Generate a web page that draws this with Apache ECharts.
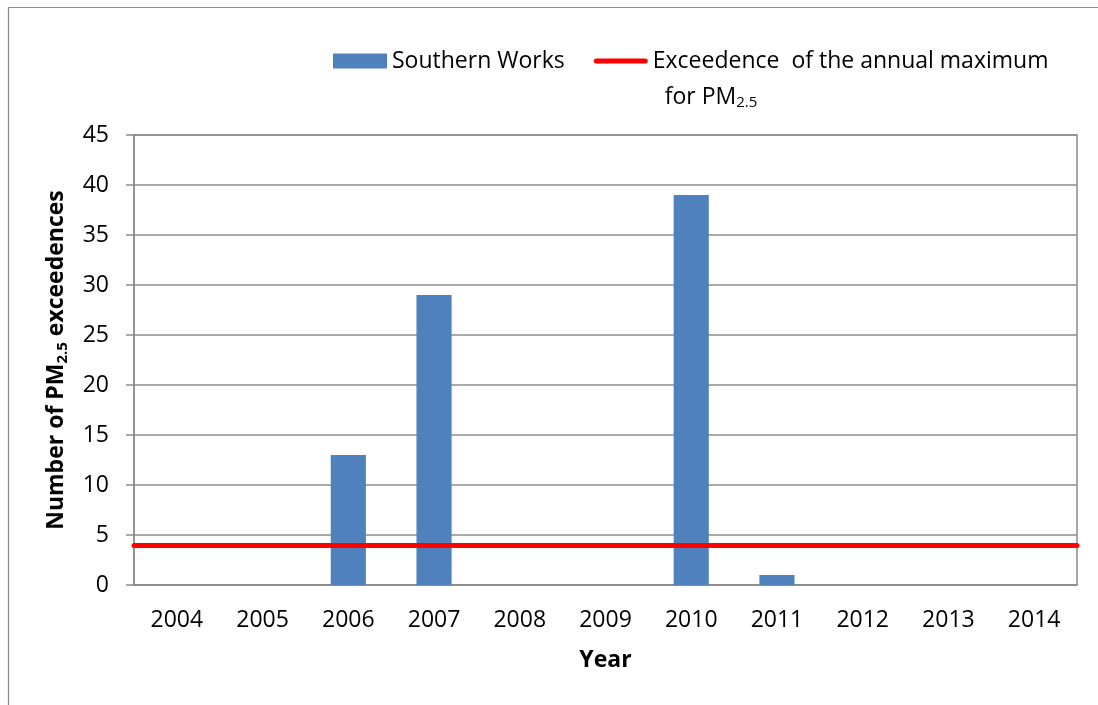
<!DOCTYPE html>
<html>
<head>
<meta charset="utf-8">
<script src="https://cdn.jsdelivr.net/npm/echarts@6/dist/echarts.min.js"></script>
<style>
  html, body { margin: 0; padding: 0; background: #ffffff; }
  #chart { width: 1098px; height: 705px; }
</style>
</head>
<body>
<div id="chart"></div>
<script>
// Annual PM2.5 exceedence counts at the Southern Works site
const years = ['2004', '2005', '2006', '2007', '2008', '2009', '2010', '2011', '2012', '2013', '2014'];
const southernWorks = [0, 0, 13, 29, 0, 0, 39, 1, 0, 0, 0];
// Allowed number of exceedences per year (horizontal reference line)
const annualMaximum = 4;
const yTicks = { min: 0, max: 45, interval: 5 };

const barName = 'Southern Works';
const lineName = 'Exceedence  of the annual maximum';

const FONT = '"Open Sans", "Liberation Sans", sans-serif';
const FONT_SIZE = 23;
const GRID_GREY = '#8c8c8c';

// thick red bar with rounded ends, used as the legend swatch of the reference line
const LINE_ICON = 'path://M2.5,0 L51.5,0 A2.5,2.5 0 0 1 51.5,5 L2.5,5 A2.5,2.5 0 0 1 2.5,0 Z';

const chart = echarts.init(document.getElementById('chart'), null, { renderer: 'canvas' });

chart.setOption({
  animation: false,
  backgroundColor: '#ffffff',
  textStyle: { fontFamily: FONT, color: '#000000' },
  graphic: [{
    type: 'rect',
    shape: { x: 8.5, y: 7.5, width: 1200, height: 800 },
    style: { fill: 'none', stroke: '#8a8a8a', lineWidth: 1.2 },
    silent: true,
    z: -10
  }],
  legend: {
    left: 333,
    top: 7,
    padding: 0,
    itemWidth: 54,
    itemHeight: 15,
    itemGap: 29,
    selectedMode: false,
    symbolKeepAspect: true,
    textStyle: {
      fontFamily: FONT,
      fontSize: FONT_SIZE,
      color: '#000000',
      lineHeight: 36,
      rich: {
        blank: { fontSize: FONT_SIZE, lineHeight: 36 },
        sub: { fontSize: 15, lineHeight: 36, padding: [12, 0, 0, 0] }
      }
    },
    formatter: function (name) {
      if (name === lineName) {
        // blank first line keeps the icon level with the first visible line
        return '{blank| }\n' + name + '\n  for PM{sub|2.5}';
      }
      return name;
    },
    data: [
      { name: barName, icon: 'rect' },
      { name: lineName, icon: LINE_ICON, itemStyle: { color: '#ff0000' } }
    ]
  },
  grid: {
    left: 134,
    right: 21,
    top: 135,
    bottom: 120,
    show: true,
    borderColor: GRID_GREY,
    borderWidth: 1.5,
    backgroundColor: 'transparent',
    containLabel: false
  },
  xAxis: {
    type: 'category',
    data: years,
    boundaryGap: true,
    axisLine: { show: true, lineStyle: { color: GRID_GREY, width: 1.5 } },
    axisTick: { show: false },
    axisLabel: { fontFamily: FONT, fontSize: FONT_SIZE, color: '#000000', margin: 24 },
    name: 'Year',
    nameLocation: 'middle',
    nameGap: 64,
    nameTextStyle: { fontFamily: FONT, fontSize: FONT_SIZE, fontWeight: 'bold', color: '#000000' }
  },
  yAxis: {
    type: 'value',
    min: yTicks.min,
    max: yTicks.max,
    interval: yTicks.interval,
    axisLine: { show: true, lineStyle: { color: GRID_GREY, width: 1.5 } },
    axisTick: { show: true, inside: false, length: 8, lineStyle: { color: GRID_GREY, width: 1.5 } },
    splitLine: { show: true, lineStyle: { color: GRID_GREY, width: 1.5 } },
    axisLabel: { fontFamily: FONT, fontSize: FONT_SIZE, color: '#000000', margin: 25 },
    name: 'Number of PM{sub|2.5} exceedences',
    nameLocation: 'middle',
    nameGap: 64,
    nameTextStyle: {
      fontFamily: FONT,
      fontSize: FONT_SIZE,
      fontWeight: 'bold',
      color: '#000000',
      rich: {
        sub: { fontSize: 15, fontWeight: 'bold', padding: [12, 0, 0, 0] }
      }
    }
  },
  series: [
    {
      name: barName,
      type: 'bar',
      data: southernWorks,
      barWidth: '41%',
      itemStyle: { color: '#4F81BD' },
      emphasis: { disabled: true },
      z: 2
    },
    {
      name: lineName,
      type: 'line',
      data: [],
      symbol: 'none',
      color: '#ff0000',
      lineStyle: { color: '#ff0000', width: 5, cap: 'round' },
      markLine: {
        silent: true,
        symbol: ['none', 'none'],
        label: { show: false },
        lineStyle: { color: '#ff0000', width: 5, type: 'solid', cap: 'round' },
        emphasis: { disabled: true },
        data: [{ yAxis: annualMaximum }]
      },
      z: 5
    }
  ]
});
</script>
</body>
</html>
